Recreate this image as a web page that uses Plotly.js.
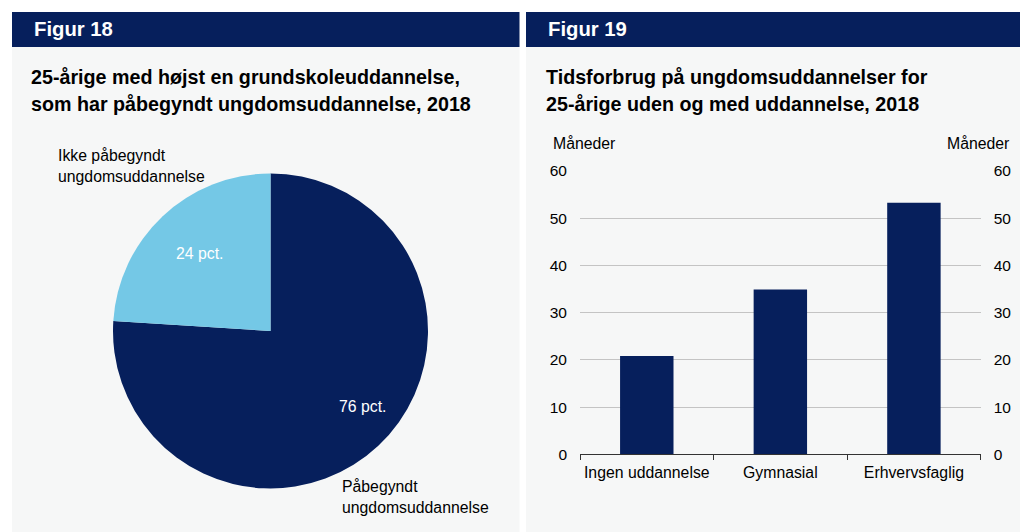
<!DOCTYPE html>
<html>
<head>
<meta charset="utf-8">
<script src="https://cdn.plot.ly/plotly-3.0.1.min.js"></script>
<style>html,body{margin:0;padding:0;background:#fff;}#chart{width:1020px;height:532px;}</style>
</head>
<body>
<div id="chart"></div>
<script>
// ---- Data ----
const pieLabels = ["Påbegyndt<br>ungdomsuddannelse", "Ikke påbegyndt<br>ungdomsuddannelse"];
const pieValues = [76, 24];
const pieColors = ["#061f5c", "#74c8e6"];

const barCategories = ["Ingen uddannelse", "Gymnasial", "Erhvervsfaglig"];
const barValues = [20.8, 34.9, 53.3];

const figTitles = ["Figur 18", "Figur 19"];
const chartTitles = [
  ["25-årige med højst en grundskoleuddannelse,", "som har påbegyndt ungdomsuddannelse, 2018"],
  ["Tidsforbrug på ungdomsuddannelser for", "25-årige uden og med uddannelse, 2018"]
];
const yTickVals = [0, 10, 20, 30, 40, 50, 60];
const yUnit = "Måneder";

// ---- Helpers (pixel -> paper) ----
const W = 1020, H = 532;
const px = x => x / W;
const py = y => 1 - y / H;
const FONT = "Liberation Sans, Arial, sans-serif";
const NAVY = "#061f5c";
const PANEL = "#f6f7f7";
const LBL = 15.8;

const traces = [
  {
    type: "pie",
    labels: pieLabels,
    values: pieValues,
    sort: false,
    direction: "clockwise",
    rotation: 0,
    marker: {colors: pieColors, line: {width: 0}},
    textinfo: "none",
    hoverinfo: "skip",
    showlegend: false,
    domain: {x: [px(113), px(428)], y: [py(488.5), py(173.5)]}
  },
  {
    type: "bar",
    x: barCategories,
    y: barValues,
    marker: {color: NAVY, line: {width: 0}},
    xaxis: "x",
    yaxis: "y",
    hoverinfo: "skip",
    showlegend: false
  },
  {
    type: "scatter",
    mode: "markers",
    x: barCategories,
    y: barValues,
    marker: {opacity: 0},
    xaxis: "x",
    yaxis: "y2",
    hoverinfo: "skip",
    showlegend: false
  }
];

const shapes = [
  {type: "rect", xref: "paper", yref: "paper", x0: px(12), x1: px(519.5), y0: py(532), y1: py(47), fillcolor: PANEL, line: {width: 0}, layer: "below"},
  {type: "rect", xref: "paper", yref: "paper", x0: px(526), x1: px(1020), y0: py(532), y1: py(47), fillcolor: PANEL, line: {width: 0}, layer: "below"},
  {type: "rect", xref: "paper", yref: "paper", x0: px(12), x1: px(519.5), y0: py(47), y1: py(12), fillcolor: NAVY, line: {width: 0}, layer: "below"},
  {type: "rect", xref: "paper", yref: "paper", x0: px(526), x1: px(1020), y0: py(47), y1: py(12), fillcolor: NAVY, line: {width: 0}, layer: "below"}
];

function ann(text, x, y, opts) {
  return Object.assign({
    text: text, xref: "paper", yref: "paper", x: px(x), y: py(y),
    showarrow: false, xanchor: "left", yanchor: "middle",
    font: {family: FONT, size: LBL, color: "#000"}
  }, opts || {});
}

const TF = {family: FONT, size: 19.7, color: "#000"};
const annotations = [
  ann("<b>" + figTitles[0] + "</b>", 32, 29.5, {font: {family: FONT, size: 20.3, color: "#fff"}}),
  ann("<b>" + figTitles[1] + "</b>", 546, 29.5, {font: {family: FONT, size: 20.3, color: "#fff"}}),
  ann("<b>" + chartTitles[0][0] + "</b>", 29, 77.5, {font: TF}),
  ann("<b>" + chartTitles[0][1] + "</b>", 29, 104.5, {font: TF}),
  ann("<b>" + chartTitles[1][0] + "</b>", 544, 77.5, {font: TF}),
  ann("<b>" + chartTitles[1][1] + "</b>", 544, 104.5, {font: TF}),
  ann(pieLabels[1], 56, 166, {align: "left"}),
  ann(pieLabels[0], 340, 497, {align: "left"}),
  ann(pieValues[1] + " pct.", 199, 253, {xanchor: "center", font: {family: FONT, size: LBL, color: "#fff"}}),
  ann(pieValues[0] + " pct.", 362, 406, {xanchor: "center", font: {family: FONT, size: LBL, color: "#fff"}}),
  ann(yUnit, 550.5, 143),
  ann(yUnit, 1010.5, 143, {xanchor: "right"})
];

const yCommon = {
  range: [0, 60],
  tickvals: yTickVals,
  showgrid: true,
  gridcolor: "#c4c4c4",
  gridwidth: 1,
  zeroline: false,
  showline: false,
  ticks: "",
  ticklabelstandoff: 12,
  tickfont: {family: FONT, size: 15.5, color: "#000"},
  fixedrange: true,
  domain: [py(454.3), py(171)]
};

const layout = {
  width: W, height: H,
  margin: {l: 0, r: 0, t: 0, b: 0, pad: 0},
  paper_bgcolor: "#ffffff",
  plot_bgcolor: "rgba(0,0,0,0)",
  showlegend: false,
  hovermode: false,
  bargap: 0.6,
  font: {family: FONT, size: LBL, color: "#000"},
  xaxis: {
    domain: [px(580), px(980.7)],
    type: "category",
    showline: true,
    linecolor: "#333",
    linewidth: 1,
    ticks: "outside",
    tickson: "boundaries",
    ticklen: 5,
    tickcolor: "#333",
    tickwidth: 1,
    tickangle: 0,
    ticklabelstandoff: 4,
    showgrid: false,
    zeroline: false,
    tickfont: {family: FONT, size: LBL, color: "#000"},
    fixedrange: true,
    anchor: "y"
  },
  yaxis: Object.assign({}, yCommon, {side: "left", anchor: "x"}),
  yaxis2: Object.assign({}, yCommon, {side: "right", overlaying: "y", anchor: "x", showgrid: false}),
  shapes: shapes,
  annotations: annotations
};

Plotly.newPlot("chart", traces, layout, {staticPlot: true, displayModeBar: false});
</script>
</body>
</html>
